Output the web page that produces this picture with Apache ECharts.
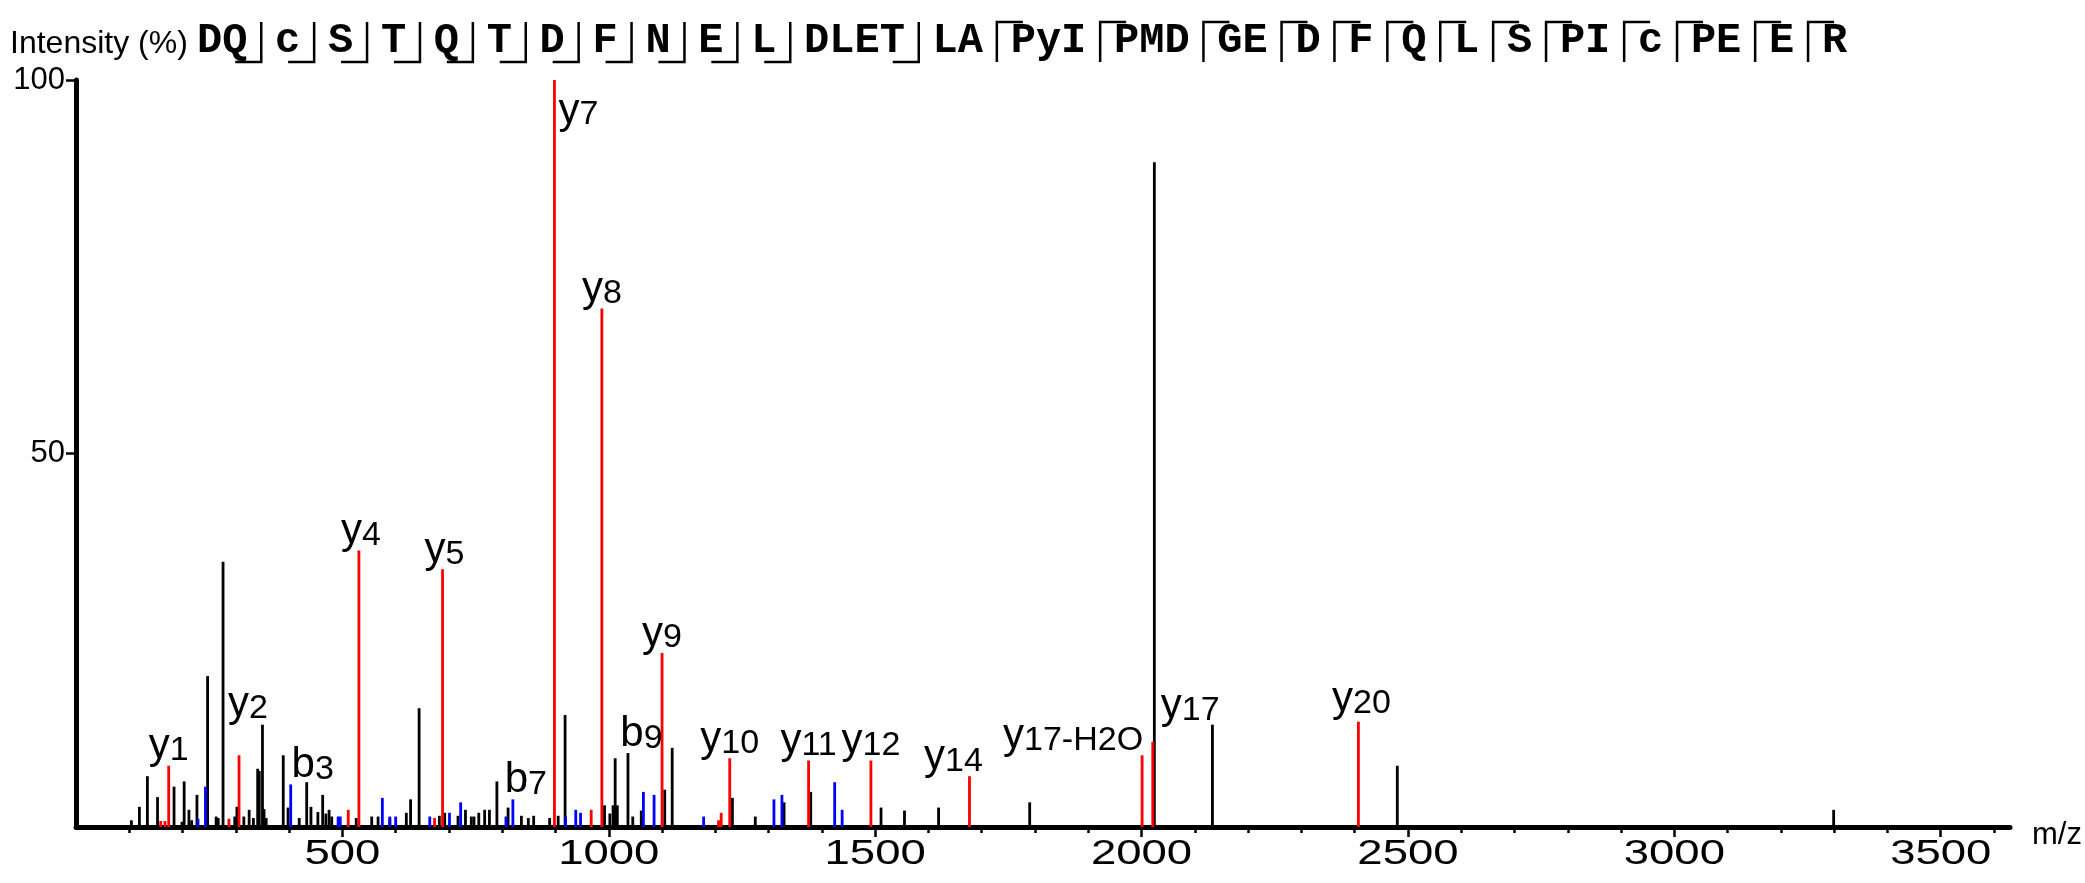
<!DOCTYPE html>
<html>
<head>
<meta charset="utf-8">
<script src="https://cdn.jsdelivr.net/npm/echarts@6/dist/echarts.min.js"></script>
<style>
  html, body { margin: 0; padding: 0; background: #ffffff; }
  #chart { width: 2085px; height: 883px; }
</style>
</head>
<body>
<div id="chart"></div>
<script>
// MS/MS fragment spectrum: unassigned peaks (black), b ions (blue), y ions (red)

const unassignedMz = [104, 119, 134, 153, 184, 199, 203, 212, 217, 227, 247, 263, 267, 276, 298,
  302, 315, 325, 333, 341, 344, 350, 353, 357, 389, 398, 419, 433, 441, 454,
  463, 469, 475, 480, 526, 555, 567, 589, 620, 628, 644, 682, 692, 717, 731,
  742, 747, 756, 767, 776, 790, 811, 836, 849, 859, 889, 905, 918, 992, 1002,
  1008, 1012, 1016, 1036, 1045, 1061, 1105, 1119, 1232, 1275, 1329, 1379, 1511, 1555, 1619,
  1790, 2024, 2133, 2480, 3299];
const unassignedInt = [0.9, 2.7, 6.8, 4.0, 5.4, 0.7, 6.1, 2.3, 0.9, 4.3, 20.2, 1.4, 1.2, 35.5, 1.4,
  2.7, 1.4, 2.3, 1.2, 7.8, 7.5, 13.7, 2.4, 1.2, 9.6, 2.6, 1.2, 6.0, 2.7, 2.0,
  4.3, 1.8, 2.3, 1.4, 1.2, 1.4, 1.4, 1.2, 1.9, 3.7, 15.9, 1.5, 1.9, 1.5, 2.3,
  1.4, 1.4, 1.9, 2.3, 2.3, 6.1, 2.6, 1.5, 1.2, 1.5, 1.2, 1.5, 15.0, 2.9, 1.8,
  2.9, 9.2, 2.9, 9.9, 1.4, 2.2, 5.0, 10.6, 3.9, 1.4, 3.3, 4.7, 2.6, 2.2, 2.6,
  3.3, 89.0, 13.7, 8.2, 2.3];

const bIonMz = [229, 243, 403, 492, 496, 575, 589, 600, 664, 701, 722, 807, 820, 919, 938, 947,
  1065, 1085, 1178, 1310, 1325, 1424, 1438];
const bIonInt = [1.1, 5.4, 5.7, 1.4, 1.4, 3.9, 1.4, 1.4, 1.4, 1.9, 3.3, 1.4, 3.7, 1.4, 2.3, 1.9,
  4.7, 4.3, 1.4, 3.7, 4.3, 6.0, 2.3];

const yIonMz = [159, 167, 174, 287, 306, 511, 531, 673, 688, 898, 967, 987, 1100, 1206, 1211,
  1227, 1375, 1492, 1677, 2001, 2021, 2407];
const yIonInt = [0.8, 0.8, 8.2, 1.1, 9.6, 2.3, 37.0, 1.2, 34.5, 100, 2.3, 69.4, 23.3, 0.9, 1.9,
  9.2, 8.9, 8.9, 6.8, 9.6, 11.4, 14.1];

// annotated fragments and the m/z of the peak each one names
const ionLabels = ['y1', 'y2', 'b3', 'y4', 'y5', 'b7', 'y7', 'y8', 'b9', 'y9', 'y10', 'y11', 'y12',
  'y14', 'y17-H2O', 'y17', 'y20'];
const ionLabelMz = [174, 306, 403, 531, 688, 820, 898, 987, 1065, 1100, 1227, 1375, 1492,
  1677, 2001, 2021, 2407];

// peptide sequence with cleavage marks between the residue groups
const sequenceParts = ['DQ', 'c', 'S', 'T', 'Q', 'T', 'D', 'F', 'N', 'E', 'L', 'DLET', 'LA',
  'PyI', 'PMD', 'GE', 'D', 'F', 'Q', 'L', 'S', 'PI', 'c', 'PE', 'E', 'R'];
const cleavageTypes = ['b', 'b', 'b', 'b', 'b', 'b', 'b', 'b', 'b', 'b', 'b', 'b',
  'y', 'y', 'y', 'y', 'y', 'y', 'y', 'y', 'y', 'y', 'y', 'y', 'y'];

const xTickValues = [500, 1000, 1500, 2000, 2500, 3000, 3500];
const yTickValues = [50, 100];
const X_MAX = 3630;

// ---- label placement tweaks (pixels) ----
const labelLayout = {
  'y2': { dx: 9, dy: -32 },
  'b3': { dx: 22 },
  'y4': { dx: 2 },
  'y5': { dx: 2 },
  'b7': { dx: 13 },
  'y7': { dx: 4, dy: 50, align: 'left' },
  'b9': { dx: -2, dy: -38 },
  'y14': { dx: -16 },
  'y17-H2O': { dx: 1, align: 'right' },
  'y17': { dx: 8, dy: -16, align: 'left' },
  'y20': { dx: 3, dy: -3 }
};

const FONT = '"Liberation Sans", Arial, sans-serif';
const MONO = '"Liberation Mono", "Courier New", monospace';

function intensityAt(mz) {
  let i = yIonMz.indexOf(mz);
  if (i >= 0) return yIonInt[i];
  i = bIonMz.indexOf(mz);
  return i >= 0 ? bIonInt[i] : 0;
}

function stickSeries(name, mzs, ints, color) {
  return {
    type: 'custom',
    name: name,
    data: mzs.map((m, i) => [m, ints[i]]),
    encode: { x: 0, y: 1 },
    z: 3,
    renderItem: function (params, api) {
      const top = api.coord([api.value(0), api.value(1)]);
      const base = api.coord([api.value(0), 0]);
      return {
        type: 'line',
        shape: { x1: top[0], y1: base[1], x2: top[0], y2: top[1] },
        style: { stroke: color, lineWidth: 2.8 }
      };
    }
  };
}

const labelSeries = {
  type: 'custom',
  name: 'ion labels',
  data: ionLabelMz.map(m => [m, intensityAt(m)]),
  encode: { x: 0, y: 1 },
  z: 5,
  renderItem: function (params, api) {
    const name = ionLabels[params.dataIndex];
    const lay = labelLayout[name] || {};
    const p = api.coord([api.value(0), api.value(1)]);
    return {
      type: 'text',
      x: p[0] + (lay.dx || 0),
      y: p[1] + 2 + (lay.dy || 0),
      style: {
        text: '{a|' + name.charAt(0) + '}{b|' + name.slice(1) + '}',
        align: lay.align || 'center',
        verticalAlign: 'bottom',
        rich: {
          a: { fontSize: 42, lineHeight: 42, fontFamily: FONT, fill: '#000', verticalAlign: 'bottom' },
          b: { fontSize: 34, lineHeight: 34, fontFamily: FONT, fill: '#000', verticalAlign: 'bottom' }
        }
      }
    };
  }
};

// m/z tick labels: drawn a little wider than normal type, centred on each major tick
const xTickLabelSeries = {
  type: 'custom',
  name: 'm/z ticks',
  data: xTickValues.map(v => [v, 0]),
  encode: { x: 0, y: 1 },
  z: 4,
  silent: true,
  renderItem: function (params, api) {
    const p = api.coord([api.value(0), 0]);
    return {
      type: 'text',
      x: p[0],
      y: p[1] + 27,
      scaleX: 1.3,
      style: {
        text: String(api.value(0)),
        fontSize: 35, fontFamily: FONT, fill: '#000',
        align: 'center', verticalAlign: 'middle'
      }
    };
  }
};

// ---- peptide sequence header ----
const SEQ_SIZE = 42;
const SEQ_ADV = SEQ_SIZE * 0.6;
const SEQ_GAP = 27.7;
const SEQ_X0 = 197;
const SEQ_Y = 41;
const MARK_TOP = 22, MARK_BOTTOM = 62, MARK_ARM = 26;

const headerGraphics = [{
  type: 'text', x: 10, y: 44,
  style: { text: 'Intensity (%)', fontSize: 32, fontFamily: FONT, fill: '#000', align: 'left', verticalAlign: 'middle' }
}];
(function buildSequence() {
  let x = SEQ_X0;
  sequenceParts.forEach((part, i) => {
    headerGraphics.push({
      type: 'text', x: x, y: SEQ_Y,
      style: { text: part, fontSize: SEQ_SIZE, fontWeight: 'bold', fontFamily: MONO, fill: '#000', align: 'left', verticalAlign: 'middle' }
    });
    x += part.length * SEQ_ADV;
    if (i < cleavageTypes.length) {
      const mx = x + SEQ_GAP / 2;
      const pts = cleavageTypes[i] === 'b'
        ? [[mx - MARK_ARM, MARK_BOTTOM], [mx, MARK_BOTTOM], [mx, MARK_TOP]]
        : [[mx, MARK_BOTTOM], [mx, MARK_TOP], [mx + MARK_ARM, MARK_TOP]];
      headerGraphics.push({
        type: 'polyline', shape: { points: pts },
        style: { stroke: '#000', lineWidth: 2.5, fill: null }
      });
      x += SEQ_GAP;
    }
  });
})();

const minorTickValues = [];
for (let v = 100; v < X_MAX; v += 100) {
  if (v % 500 !== 0) minorTickValues.push(v);
}

const chart = echarts.init(document.getElementById('chart'), null, { renderer: 'canvas' });
chart.setOption({
  backgroundColor: '#ffffff',
  animation: false,
  grid: { left: 76, right: 75, top: 80, bottom: 56, containLabel: false },
  xAxis: [{
    type: 'value', min: 0, max: X_MAX, interval: 500,
    axisLine: { show: true, lineStyle: { color: '#000', width: 5 } },
    axisTick: { show: true, length: 10, customValues: xTickValues, lineStyle: { color: '#000', width: 2.5 } },
    axisLabel: { show: false },
    splitLine: { show: false },
    name: 'm/z', nameLocation: 'end', nameGap: 22,
    nameTextStyle: { fontSize: 31, fontFamily: FONT, color: '#000', align: 'left', verticalAlign: 'top', padding: [-7, 0, 0, 0] }
  }, {
    type: 'value', min: 0, max: X_MAX, position: 'bottom',
    axisLine: { show: false },
    axisTick: { show: true, length: 6, customValues: minorTickValues, lineStyle: { color: '#000', width: 2.5 } },
    axisLabel: { show: false },
    splitLine: { show: false }
  }],
  yAxis: {
    type: 'value', min: 0, max: 100, interval: 50,
    axisLine: { show: true, lineStyle: { color: '#000', width: 5 } },
    axisTick: { show: true, length: 10, customValues: yTickValues, lineStyle: { color: '#000', width: 2.5 } },
    axisLabel: { show: true, customValues: yTickValues, fontSize: 31, fontFamily: FONT, color: '#000', margin: 11 },
    splitLine: { show: false }
  },
  graphic: headerGraphics,
  series: [
    stickSeries('unassigned', unassignedMz, unassignedInt, '#000000'),
    stickSeries('b ions', bIonMz, bIonInt, '#0000ff'),
    stickSeries('y ions', yIonMz, yIonInt, '#ff0000'),
    labelSeries,
    xTickLabelSeries
  ]
});
</script>
</body>
</html>
